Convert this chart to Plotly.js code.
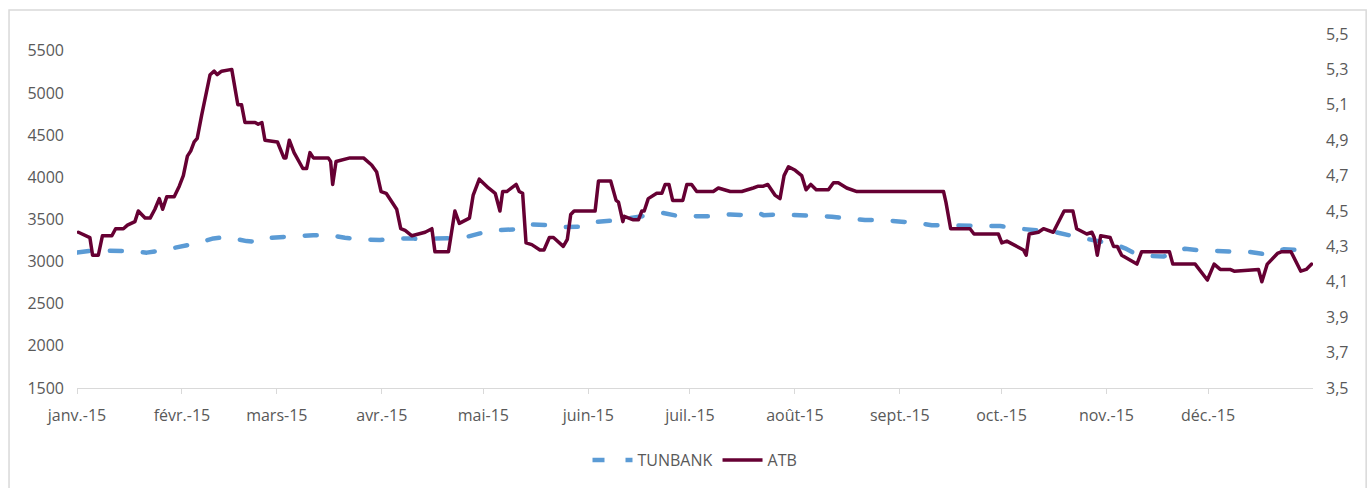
<!DOCTYPE html>
<html>
<head>
<meta charset="utf-8">
<script src="https://cdn.plot.ly/plotly-3.0.1.min.js"></script>
<style>
  body { margin: 0; background: #fff; }
  #chart { width: 1370px; height: 488px; }
  .scatterlayer .js-line { stroke-linecap: round; stroke-linejoin: round; }
</style>
</head>
<body>
<div id="chart"></div>
<script>
// month labels on the x axis (first day of each month, 2015)
const monthLabels = ['janv.-15', 'févr.-15', 'mars-15', 'avr.-15', 'mai-15', 'juin-15',
    'juil.-15', 'août-15', 'sept.-15', 'oct.-15', 'nov.-15', 'déc.-15']

// TUNBANK (left axis) - days since 1 Jan 2015 and index level
const tunbankDay = [0, 4.8, 15.2, 20.6, 25.0, 30.4, 34.8, 40.3, 44.2, 50.1,
    52.6, 54.0, 60.9, 64.4, 69.8, 74.7, 79.1, 83.6, 89.5, 93.9,
    99.3, 102.3, 105.2, 110.2, 114.1, 119.0, 122.9, 129.4, 132.8, 139.2,
    143.1, 149.1, 152.5, 158.9, 162.8, 168.3, 172.7, 178.6, 183.0, 187.9,
    192.9, 197.8, 201.2, 202.7, 207.6, 213.0, 217.9, 222.9, 227.8, 232.7,
    237.7, 243.1, 247.5, 252.4, 258.8, 262.8, 267.7, 272.6, 277.5, 283.0,
    288.3, 292.8, 297.7, 302.6, 307.1, 309.5, 311.9, 316.9, 320.8, 327.2,
    331.6, 336.6, 341.0, 346.4, 350.9, 356.3, 360.7]
const tunbankValue = [3106, 3133, 3125, 3106, 3133, 3172, 3212, 3275, 3290, 3243,
    3236, 3272, 3295, 3302, 3311, 3314, 3283, 3263, 3255, 3275,
    3275, 3251, 3272, 3283, 3283, 3334, 3370, 3382, 3441, 3432,
    3409, 3413, 3468, 3488, 3508, 3547, 3579, 3532, 3539, 3539,
    3559, 3551, 3579, 3551, 3559, 3551, 3539, 3532, 3512, 3492,
    3492, 3480, 3461, 3432, 3432, 3432, 3421, 3421, 3393, 3370,
    3354, 3314, 3275, 3224, 3196, 3157, 3106, 3066, 3059, 3153,
    3133, 3125, 3125, 3113, 3086, 3145, 3137]

// ATB (right axis) - days since 1 Jan 2015 and share price
const atbDay = [0.4, 3.8, 4.6, 6.3, 7.5, 10.3, 11.4, 13.7, 14.9, 17.1,
    18.1, 20.1, 21.6, 23.0, 24.3, 25.3, 26.5, 28.7, 30.2, 31.4,
    32.6, 33.6, 34.6, 35.5, 36.8, 38.3, 39.3, 40.5, 41.4, 42.7,
    45.7, 47.5, 48.6, 49.6, 52.6, 53.5, 54.6, 55.5, 59.2, 61.1,
    61.7, 62.7, 64.1, 66.7, 67.8, 68.8, 69.8, 74.2, 74.9, 75.5,
    76.5, 80.6, 84.6, 87.0, 88.5, 89.8, 91.3, 94.4, 95.6, 96.9,
    98.9, 102.8, 104.8, 105.7, 109.7, 111.6, 112.9, 115.9, 117.0, 118.8,
    121.5, 123.5, 124.9, 125.7, 126.9, 129.7, 130.6, 131.6, 132.6, 134.3,
    136.7, 137.9, 139.5, 140.7, 143.6, 144.8, 145.8, 146.8, 153.0, 154.0,
    157.6, 159.2, 159.9, 161.2, 161.6, 164.3, 165.8, 166.8, 167.5, 168.7,
    171.2, 172.7, 173.7, 174.8, 175.9, 178.9, 180.1, 181.5, 183.0, 187.9,
    189.4, 192.9, 196.3, 199.7, 201.2, 202.7, 204.0, 206.1, 207.6, 208.8,
    210.1, 212.1, 214.0, 215.3, 216.7, 218.3, 221.9, 223.4, 224.8, 227.3,
    229.1, 230.3, 238.6, 239.6, 244.0, 245.0, 255.9, 256.6, 258.0, 263.7,
    264.9, 272.1, 273.1, 274.6, 278.5, 279.5, 280.3, 281.2, 283.9, 285.4,
    288.3, 291.5, 294.1, 295.2, 298.2, 299.7, 300.4, 301.3, 302.3, 305.1,
    306.1, 307.2, 308.5, 313.0, 314.4, 322.6, 323.6, 330.2, 333.8, 335.8,
    337.6, 340.5, 341.7, 348.9, 349.9, 351.5, 354.5, 355.8, 358.5, 361.4,
    363.0, 364.6]
const atbValue = [4.38, 4.35, 4.25, 4.25, 4.36, 4.36, 4.40, 4.40, 4.42, 4.44,
    4.50, 4.46, 4.46, 4.51, 4.57, 4.51, 4.58, 4.58, 4.64, 4.70,
    4.81, 4.84, 4.89, 4.91, 5.04, 5.19, 5.27, 5.29, 5.27, 5.29,
    5.30, 5.10, 5.10, 5.00, 5.00, 4.99, 5.00, 4.90, 4.89, 4.80,
    4.80, 4.90, 4.83, 4.74, 4.74, 4.83, 4.80, 4.80, 4.78, 4.65,
    4.78, 4.80, 4.80, 4.76, 4.72, 4.61, 4.60, 4.51, 4.40, 4.39,
    4.36, 4.38, 4.40, 4.27, 4.27, 4.50, 4.43, 4.46, 4.59, 4.68,
    4.63, 4.60, 4.50, 4.61, 4.61, 4.65, 4.61, 4.60, 4.32, 4.31,
    4.28, 4.28, 4.35, 4.35, 4.30, 4.34, 4.48, 4.50, 4.50, 4.67,
    4.67, 4.56, 4.55, 4.44, 4.47, 4.45, 4.45, 4.50, 4.50, 4.57,
    4.60, 4.60, 4.65, 4.65, 4.56, 4.56, 4.65, 4.65, 4.61, 4.61,
    4.63, 4.61, 4.61, 4.63, 4.64, 4.64, 4.65, 4.59, 4.57, 4.70,
    4.75, 4.73, 4.70, 4.62, 4.65, 4.62, 4.62, 4.66, 4.66, 4.63,
    4.62, 4.61, 4.61, 4.61, 4.61, 4.61, 4.61, 4.55, 4.40, 4.40,
    4.37, 4.37, 4.32, 4.33, 4.29, 4.28, 4.25, 4.37, 4.38, 4.40,
    4.38, 4.50, 4.50, 4.40, 4.37, 4.38, 4.35, 4.25, 4.36, 4.35,
    4.30, 4.30, 4.25, 4.20, 4.27, 4.27, 4.20, 4.20, 4.11, 4.20,
    4.17, 4.17, 4.16, 4.17, 4.10, 4.20, 4.26, 4.27, 4.27, 4.16,
    4.17, 4.20]

function day_to_date(d) {
    let t = new Date(Date.UTC(2015, 0, 1) + d * 86400000)
    return t.toISOString().slice(0, 19).replace('T', ' ')
}

const monthStarts = monthLabels.map((_, i) => '2015-' + String(i + 1).padStart(2, '0') + '-01')
const font = { family: 'Open Sans, sans-serif', size: 16, color: '#595959' }

let tunbank = {
    x: tunbankDay.map(day_to_date),
    y: tunbankValue,
    type: 'scatter',
    mode: 'lines',
    name: 'TUNBANK',
    line: { color: '#5B9BD5', width: 4.5, dash: '12px,21px' }
}
let atb = {
    x: atbDay.map(day_to_date),
    y: atbValue,
    type: 'scatter',
    mode: 'lines',
    name: 'ATB',
    yaxis: 'y2',
    line: { color: '#660033', width: 3.5 }
}

let layout = {
    width: 1370,
    height: 488,
    margin: { l: 77, r: 57, t: 34, b: 99 },
    paper_bgcolor: '#fff',
    plot_bgcolor: '#fff',
    separators: ', ',
    font: font,
    showlegend: true,
    legend: {
        orientation: 'h',
        x: 0.5, xanchor: 'center',
        y: -0.2, yanchor: 'middle',
        itemwidth: 40,
        font: font
    },
    xaxis: {
        type: 'date',
        range: ['2015-01-01', '2016-01-01'],
        tickvals: monthStarts,
        ticktext: monthLabels,
        ticks: 'outside',
        ticklen: 5,
        tickcolor: '#d9d9d9',
        showline: true,
        linecolor: '#d9d9d9',
        showgrid: false,
        zeroline: false,
        tickfont: font,
        ticklabelstandoff: 8
    },
    yaxis: {
        range: [1500, 5700],
        tick0: 1500,
        dtick: 500,
        showgrid: false,
        zeroline: false,
        showline: false,
        tickfont: font,
        ticklabelstandoff: 12
    },
    yaxis2: {
        overlaying: 'y',
        side: 'right',
        range: [3.5, 5.5],
        tick0: 3.5,
        dtick: 0.2,
        tickformat: '.1f',
        showgrid: false,
        zeroline: false,
        showline: false,
        tickfont: font,
        ticklabelstandoff: 12
    },
    shapes: [{
        type: 'rect', xref: 'paper', yref: 'paper',
        x0: -0.055, x1: 1.043, y0: -0.3, y1: 1.068,
        line: { color: '#d9d9d9', width: 1.5 }
    }]
}

Plotly.newPlot('chart', [tunbank, atb], layout, { displayModeBar: false, staticPlot: true })
</script>
</body>
</html>
